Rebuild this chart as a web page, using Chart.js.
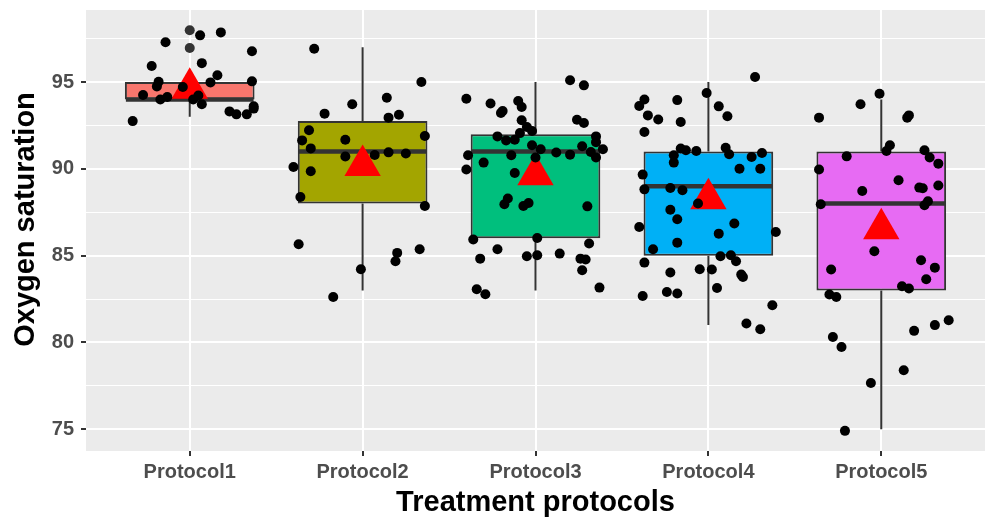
<!DOCTYPE html>
<html>
<head>
<meta charset="utf-8">
<script src="https://cdn.jsdelivr.net/npm/chart.js@4/dist/chart.umd.min.js"></script>
<style>
  html, body { margin: 0; padding: 0; background: #fff; }
  #wrap { width: 985px; height: 518px; }
</style>
</head>
<body>
<div id="wrap"><canvas id="chart" width="985" height="518"></canvas></div>
<script>
// categorias y resumen de cada caja
const categories = ['Protocol1', 'Protocol2', 'Protocol3', 'Protocol4', 'Protocol5'];
const boxColors = ['#F8766D', '#A3A500', '#00BF7D', '#00B0F6', '#E76BF3'];
const q1 = [94, 88, 86, 85, 83];
const medians = [94, 91, 91, 89, 88];
const q3 = [95, 92.75, 92, 91, 91];
const whiskerLow = [93, 83, 83, 81, 75];
const whiskerHigh = [95, 97, 95, 95, 94];
const means = [94.65, 90.2, 89.66, 88.28, 86.55];
const outliersP1 = [97.98, 96.96];
const yTicks = [75, 80, 85, 90, 95];

// puntos con jitter: [desplazamiento x, valor]
const pointsP1 = [[-0.33,92.75],[-0.27,94.25],[-0.22,95.92],[-0.14,97.29],[-0.18,95.02],[-0.19,94.75],[-0.17,93.99],[-0.13,94.14],[-0.04,94.71],[0.06,97.69],[0.07,96.09],[0.02,94.0],[0.05,94.23],[0.07,93.72],[0.12,94.98],[0.16,95.39],[0.18,97.86],[0.23,93.31],[0.27,93.14],[0.33,93.14],[0.37,93.47],[0.37,93.6],[0.36,95.04],[0.36,96.77]];
const pointsP2 = [[-0.28,96.92],[0.34,95.0],[0.14,94.1],[-0.06,93.72],[-0.22,93.18],[0.15,92.95],[0.21,93.12],[-0.31,92.22],[-0.35,91.64],[-0.30,91.18],[-0.10,91.68],[0.36,91.89],[-0.10,90.71],[0.07,90.8],[0.15,90.95],[0.25,90.88],[-0.40,90.11],[-0.30,89.86],[-0.36,88.38],[0.36,87.86],[-0.37,85.66],[0.33,85.37],[0.20,85.16],[0.19,84.68],[-0.01,84.22],[-0.17,82.62]];
const pointsP3 = [[0.20,95.1],[0.28,94.81],[-0.40,94.04],[-0.26,93.76],[-0.20,93.22],[-0.19,93.33],[-0.10,93.91],[-0.08,93.56],[-0.08,92.8],[-0.05,92.41],[-0.02,92.18],[-0.09,92.06],[-0.12,91.68],[-0.17,91.64],[-0.22,91.87],[0.24,92.83],[0.28,92.64],[0.35,91.87],[0.35,91.54],[0.39,91.13],[0.35,90.65],[0.32,90.97],[0.27,91.3],[0.20,90.82],[0.12,90.94],[0.03,91.13],[-0.02,91.36],[0.0,90.65],[-0.14,90.78],[-0.30,90.36],[-0.39,90.78],[-0.40,89.96],[-0.12,89.76],[-0.16,88.29],[-0.18,87.96],[-0.07,87.86],[-0.04,88.03],[0.30,87.84],[-0.36,85.93],[0.01,86.02],[-0.22,85.37],[-0.32,84.83],[-0.05,84.97],[0.01,85.02],[0.14,85.12],[0.31,85.7],[0.26,84.83],[0.29,84.78],[0.27,84.16],[0.37,83.16],[-0.34,83.07],[-0.29,82.78]];
const pointsP4 = [[0.27,95.29],[-0.01,94.37],[-0.37,94.0],[-0.40,93.62],[-0.18,93.96],[-0.35,93.08],[-0.29,92.84],[0.06,93.6],[0.11,93.03],[-0.16,92.7],[-0.37,92.12],[-0.16,91.17],[-0.13,91.07],[-0.20,90.78],[-0.20,90.36],[-0.07,91.03],[0.10,91.22],[0.12,90.84],[0.25,90.68],[0.31,90.91],[0.18,90.01],[0.30,90.01],[-0.38,89.67],[-0.37,88.82],[-0.22,88.9],[-0.15,88.77],[-0.06,88.0],[-0.22,87.65],[-0.18,87.1],[0.15,86.85],[-0.40,86.65],[0.39,86.36],[0.06,86.27],[-0.18,85.75],[-0.32,85.37],[0.07,84.97],[0.13,85.02],[0.16,84.68],[-0.37,84.6],[-0.22,84.03],[-0.05,84.22],[0.02,84.2],[0.19,83.91],[0.20,83.77],[0.05,83.14],[-0.24,82.91],[-0.18,82.82],[-0.38,82.68],[0.37,82.14],[0.22,81.09],[0.30,80.76]];
const pointsP5 = [[-0.01,94.33],[-0.12,93.72],[-0.36,92.95],[0.15,92.95],[0.16,93.08],[0.05,91.36],[0.03,91.03],[-0.20,90.72],[0.25,91.07],[0.28,90.65],[0.33,90.3],[-0.36,89.96],[0.10,89.34],[-0.11,88.73],[0.22,88.92],[0.24,88.88],[0.33,89.04],[-0.35,87.96],[0.25,87.9],[0.27,88.13],[-0.04,85.25],[-0.29,84.2],[0.23,84.74],[0.31,84.31],[0.26,83.64],[0.12,83.24],[0.16,83.11],[-0.30,82.76],[-0.26,82.62],[0.39,81.28],[0.31,81.0],[0.19,80.67],[-0.28,80.32],[-0.23,79.74],[0.13,78.4],[-0.06,77.67],[-0.21,74.91]];

const allPoints = [pointsP1, pointsP2, pointsP3, pointsP4, pointsP5];
const FONT = "'Liberation Sans', Arial, sans-serif";
const INK = '#333333';

const jitterData = [];
allPoints.forEach((grp, i) => grp.forEach(p => jitterData.push({x: i + 1 + p[0], y: p[1]})));

const boxData = categories.map((c, i) => ({x: i + 1, y: [q1[i], q3[i]]}));
const meanData = means.map((m, i) => ({x: i + 1, y: m}));
const outlierData = outliersP1.map(v => ({x: 1, y: v}));

// fondo gris del panel
const panelBg = {
  id: 'panelBg',
  beforeDraw(chart) {
    const {ctx, chartArea: a} = chart;
    ctx.save();
    ctx.fillStyle = '#EBEBEB';
    ctx.fillRect(a.left, a.top, a.right - a.left, a.bottom - a.top);
    ctx.restore();
  }
};

// titulo del eje Y (un poco por encima del centro, como en el original)
const yTitle = {
  id: 'yTitle',
  afterDraw(chart) {
    const {ctx, chartArea: a} = chart;
    ctx.save();
    ctx.translate(25.5, (a.top + a.bottom) / 2 - 11);
    ctx.rotate(-Math.PI / 2);
    ctx.textAlign = 'center';
    ctx.textBaseline = 'middle';
    ctx.fillStyle = '#000';
    ctx.font = `bold 29px ${FONT}`;
    ctx.fillText('Oxygen saturation', 0, 0);
    ctx.restore();
  }
};

// bigotes antes de las cajas, medianas después
const boxExtras = {
  id: 'boxExtras',
  beforeDatasetDraw(chart, args) {
    if (args.index !== 3) return;
    const {ctx, scales: {x, y}} = chart;
    ctx.save();
    ctx.strokeStyle = INK;
    ctx.lineWidth = 2;
    categories.forEach((c, i) => {
      const px = x.getPixelForValue(i + 1);
      ctx.beginPath();
      ctx.moveTo(px, y.getPixelForValue(whiskerLow[i]));
      ctx.lineTo(px, y.getPixelForValue(q1[i]));
      ctx.moveTo(px, y.getPixelForValue(q3[i]));
      ctx.lineTo(px, y.getPixelForValue(whiskerHigh[i]));
      ctx.stroke();
    });
    ctx.restore();
  },
  afterDatasetDraw(chart, args) {
    if (args.index !== 3) return;
    const {ctx, scales: {x, y}} = chart;
    ctx.save();
    ctx.strokeStyle = INK;
    ctx.lineWidth = 4.5;
    categories.forEach((c, i) => {
      const py = y.getPixelForValue(medians[i]);
      ctx.beginPath();
      ctx.moveTo(x.getPixelForValue(i + 1 - 0.375) + 1, py);
      ctx.lineTo(x.getPixelForValue(i + 1 + 0.375) - 1, py);
      ctx.stroke();
    });
    ctx.restore();
  }
};

new Chart(document.getElementById('chart'), {
  type: 'bar',
  data: {
    datasets: [
      { type: 'scatter', label: 'points', data: jitterData, order: 1,
        pointRadius: 5, pointHoverRadius: 5, backgroundColor: '#000', borderWidth: 0 },
      { type: 'scatter', label: 'mean', data: meanData, order: 2,
        pointStyle: 'triangle', pointRadius: 21, pointHoverRadius: 21,
        backgroundColor: '#FF0000', borderWidth: 0 },
      { type: 'scatter', label: 'outliers', data: outlierData, order: 3,
        pointRadius: 5, pointHoverRadius: 5, backgroundColor: INK, borderWidth: 0 },
      { type: 'bar', label: 'box', data: boxData, order: 4,
        backgroundColor: boxColors, borderColor: INK, borderWidth: 2,
        borderSkipped: false, categoryPercentage: 1, barPercentage: 0.75, grouped: false }
    ]
  },
  options: {
    responsive: false,
    animation: false,
    devicePixelRatio: 1,
    layout: { autoPadding: false, padding: { top: 10, right: 0, left: 0, bottom: 0 } },
    plugins: { legend: { display: false }, tooltip: { enabled: false } },
    scales: {
      x: {
        type: 'linear', min: 0.4, max: 5.6, offset: false,
        afterFit(s) { s.height = 67; s.paddingLeft = 0; s.paddingRight = 0; },
        border: { display: false },
        grid: { offset: false, color: '#FFFFFF', lineWidth: 2, tickColor: INK, tickLength: 5, tickWidth: 2 },
        ticks: {
          stepSize: 1, includeBounds: false, padding: 4, color: '#4D4D4D',
          font: { family: FONT, size: 20, weight: 'bold' },
          callback: v => categories[v - 1] || ''
        },
        title: {
          display: true, text: 'Treatment protocols', color: '#000',
          font: { family: FONT, size: 29, weight: 'bold', lineHeight: 1 },
          padding: { top: 0, bottom: 1 }
        }
      },
      y: {
        type: 'linear', min: 73.75, max: 99.15,
        afterFit(s) { s.width = 86; s.paddingTop = 0; s.paddingBottom = 0; },
        border: { display: false },
        grid: {
          color: '#FFFFFF',
          lineWidth: c => yTicks.includes(c.tick && c.tick.value) ? 2 : 1,
          tickColor: c => yTicks.includes(c.tick && c.tick.value) ? INK : 'rgba(0,0,0,0)',
          tickLength: 5, tickWidth: 2
        },
        ticks: {
          stepSize: 2.5, includeBounds: false, padding: 7, color: '#4D4D4D',
          font: { family: FONT, size: 20, weight: 'bold' },
          callback: v => yTicks.includes(v) ? String(v) : ''
        },
        title: { display: false }
      }
    }
  },
  plugins: [panelBg, boxExtras, yTitle]
});
</script>
</body>
</html>
